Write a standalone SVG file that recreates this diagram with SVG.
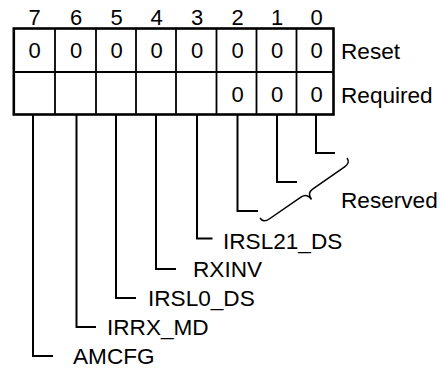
<svg xmlns="http://www.w3.org/2000/svg" width="445" height="368" viewBox="0 0 445 368">
<style>
text{font-family:"Liberation Sans",Arial,sans-serif;font-size:22px;fill:#000}
.lbl{font-size:22.6px}
.c{text-anchor:middle}
.frame{fill:#fff;stroke:#000;stroke-width:2.6}
.div{stroke:#000;stroke-width:1.8;fill:none}
.lead{stroke:#000;stroke-width:2;fill:none}
.brace{stroke:#000;stroke-width:1.5;fill:none}
</style>
<rect width="445" height="368" fill="#fff"/>
<g id="register">
<rect class="frame" x="13.8" y="28.5" width="319.7" height="86"/>
<path class="div" d="M13.8,72H333.5M55,28.5V114.5M96,28.5V114.5M136,28.5V114.5M176,28.5V114.5M216.5,28.5V114.5M256.5,28.5V114.5M296.5,28.5V114.5"/>
</g>
<g id="bit-numbers">
<text class="c" x="34.5" y="25">7</text>
<text class="c" x="76" y="25">6</text>
<text class="c" x="116.5" y="25">5</text>
<text class="c" x="156.5" y="25">4</text>
<text class="c" x="197" y="25">3</text>
<text class="c" x="237.5" y="25">2</text>
<text class="c" x="277" y="25">1</text>
<text class="c" x="316.5" y="25">0</text>
</g>
<g id="reset-row">
<text class="c" x="34.5" y="58">0</text>
<text class="c" x="76" y="58">0</text>
<text class="c" x="116.5" y="58">0</text>
<text class="c" x="156.5" y="58">0</text>
<text class="c" x="197" y="58">0</text>
<text class="c" x="237.5" y="58">0</text>
<text class="c" x="277" y="58">0</text>
<text class="c" x="316.5" y="58">0</text>
<text class="lbl" x="341" y="58.5">Reset</text>
</g>
<g id="required-row">
<text class="c" x="237.5" y="102">0</text>
<text class="c" x="277" y="102">0</text>
<text class="c" x="316.5" y="102">0</text>
<text class="lbl" x="341" y="102.5">Required</text>
</g>
<g id="connectors">
<path class="lead" d="M316,115V153H335"/>
<path class="lead" d="M277,115V182H297"/>
<path class="lead" d="M237.5,115V211H258"/>
<path class="lead" d="M197,115V238.5H212.5"/>
<path class="lead" d="M156,115V269H176"/>
<path class="lead" d="M116,115V298H136"/>
<path class="lead" d="M76.5,115V327H96"/>
<path class="lead" d="M33,115V356H53"/>
<path class="brace" d="M347,158Q350.4,162.9 344.6,166.9L312.6,189.1Q306.9,193 311.5,199.5Q306.9,193 301.3,196.9L269.2,219Q263.4,223 260,218"/>
</g>
<g id="labels">
<text class="lbl" x="341" y="208">Reserved</text>
<text class="lbl" x="223" y="248.5">IRSL21_DS</text>
<text class="lbl" x="193" y="277">RXINV</text>
<text class="lbl" x="148" y="306">IRSL0_DS</text>
<text class="lbl" x="107" y="335">IRRX_MD</text>
<text class="lbl" x="73" y="363.5">AMCFG</text>
</g>
</svg>
